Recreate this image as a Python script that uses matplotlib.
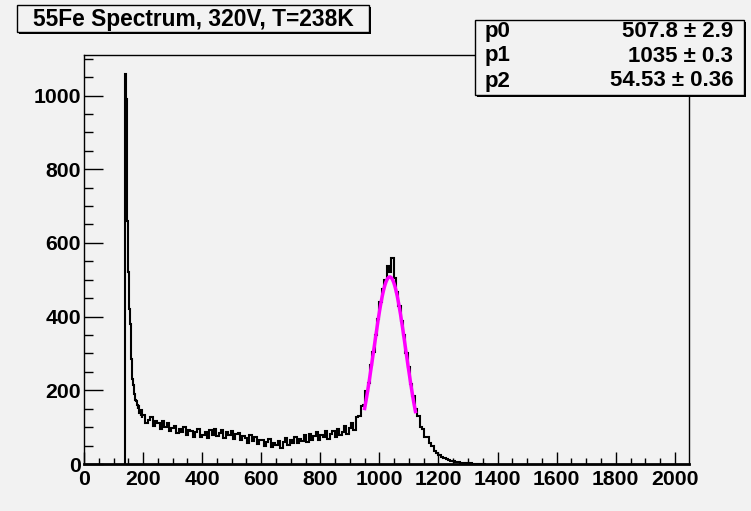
import numpy as np
import matplotlib.pyplot as plt
from matplotlib.patches import Rectangle
from matplotlib.ticker import MultipleLocator

W, H = 751, 511
bg = "#f2f2f2"

title = "55Fe Spectrum, 320V, T=238K"

# fit parameters (gaussian)
par_names = ["p0", "p1", "p2"]
par_values = ["507.8", "1035", "54.53"]
par_errors = ["2.9", "0.3", "0.36"]
p0, p1, p2 = 507.8, 1035.0, 54.53
fit_lo, fit_hi = 950, 1122

# histogram contents
# fine bins (2 ch) for the spike, 140..200
fine_edges = np.arange(140, 200, 2)
fine_counts = [1058, 990, 780, 660, 580, 520, 470, 420, 380, 330,
               285, 250, 232, 214, 200, 190, 182, 174, 170, 164,
               160, 150, 158, 138, 148, 142, 130, 146, 126, 134]
# coarse bins (8 ch), 200..1360
coarse_edges = np.arange(200, 1361, 8)
coarse_counts = [134, 112, 120, 128, 102, 118, 110, 96, 116, 100,     # 200
                 110, 90, 98, 104, 84, 96, 88, 100, 80, 92,           # 280
                 90, 74, 86, 94, 72, 80, 88, 70, 92, 78,              # 360
                 96, 76, 84, 92, 70, 86, 78, 90, 68, 82,              # 440
                 84, 66, 76, 70, 58, 78, 62, 72, 54, 66,              # 520
                 66, 50, 60, 68, 46, 58, 52, 62, 44, 60,              # 600
                 70, 52, 64, 58, 74, 56, 68, 62, 78, 60,              # 680
                 82, 66, 76, 88, 64, 80, 72, 90, 68, 82,              # 760
                 90, 74, 96, 80, 88, 102, 82, 98, 110, 92,            # 840
                 128, 130, 158, 160, 198, 220, 270, 304, 350, 394,    # 920
                 440, 476, 500, 538, 522, 560, 504, 468, 430, 388,    # 1000
                 350, 300, 264, 218, 184, 148, 130, 100, 94, 72,      # 1080
                 72, 56, 48, 36, 30, 24, 20, 15, 13, 10,              # 1160
                 9, 8, 6, 5, 4, 4, 3, 2, 2, 1,                        # 1240
                 1, 1, 1, 0, 0]                                       # 1320

edges = np.concatenate([fine_edges, coarse_edges])
counts = np.array(fine_counts + coarse_counts)

plt.rcParams["font.family"] = ["Liberation Sans", "DejaVu Sans"]
plt.rcParams["font.weight"] = "bold"

fig = plt.figure(figsize=(W / 100, H / 100), dpi=100, facecolor=bg)
ax = fig.add_axes([84 / W, 1 - 464 / H, 605 / W, 409 / H], facecolor=bg)

ax.stairs(counts, edges, color="black", lw=1.5, baseline=0)
xf = np.linspace(fit_lo, fit_hi, 300)
ax.plot(xf, p0 * np.exp(-0.5 * ((xf - p1) / p2) ** 2), color="#ff00ff", lw=2.5)

ax.set_xlim(0, 2048)
ax.set_ylim(0, 1110)
ax.set_xticks(np.arange(0, 2001, 200))
ax.set_yticks(np.arange(0, 1001, 200))
ax.xaxis.set_minor_locator(MultipleLocator(50))
ax.yaxis.set_minor_locator(MultipleLocator(50))
ax.tick_params(axis="x", which="major", direction="in", length=8.5, width=1,
               pad=4, labelsize=15.3)
ax.tick_params(axis="x", which="minor", direction="in", length=4, width=1)
ax.tick_params(axis="y", which="major", direction="in", length=13.5, width=1,
               pad=2, labelsize=15.3)
ax.tick_params(axis="y", which="minor", direction="in", length=6.5, width=1)
for s in ["top", "right", "left"]:
    ax.spines[s].set_linewidth(1)
ax.spines["bottom"].set_linewidth(2)


def box(x0, y0, x1, y1, sh=2):
    # pixel coords, origin at top left, with a ROOT style shadow
    shadow = Rectangle(((x0 + sh) / W, 1 - (y1 + sh) / H), (x1 - x0) / W, (y1 - y0) / H,
                       transform=fig.transFigure, facecolor="black", edgecolor="black", lw=0)
    main = Rectangle((x0 / W, 1 - y1 / H), (x1 - x0) / W, (y1 - y0) / H,
                     transform=fig.transFigure, facecolor=bg, edgecolor="black", lw=1)
    fig.add_artist(shadow)
    fig.add_artist(main)


box(17, 5, 369, 32)
fig.text(193 / W, 1 - 19 / H, title, ha="center", va="center", fontsize=16.4, fontweight="bold")

box(475, 20, 744, 95)
rows_y = [31, 56, 81]
for name, val, err, yy in zip(par_names, par_values, par_errors, rows_y):
    fig.text(485 / W, 1 - yy / H, name, ha="left", va="center", fontsize=16, fontweight="bold")
    fig.text(733 / W, 1 - yy / H, f"{val} \u00b1 {err}", ha="right", va="center",
             fontsize=16, fontweight="bold")

fig.savefig("out.png", dpi=100, facecolor=bg)
